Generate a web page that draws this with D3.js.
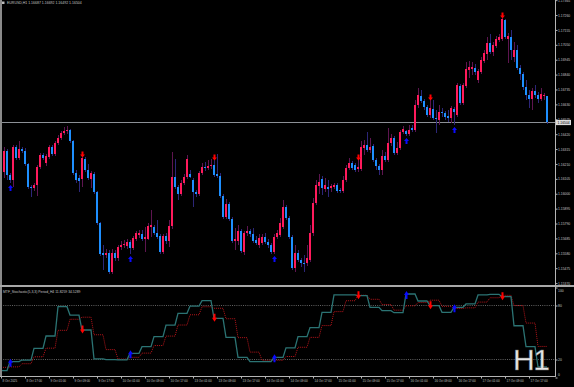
<!DOCTYPE html>
<html>
<head>
<meta charset="utf-8">
<script src="https://cdn.jsdelivr.net/npm/d3@7"></script>
<style>
  html, body { margin: 0; background: #000; }
  svg { display: block; }
  text { font-family: "Liberation Sans", Arial, sans-serif; }
</style>
</head>
<body>
<svg id="chart" width="574" height="387"></svg>
<script>
// ---------------- data ----------------
const mainTitle = "EURUSD,H1  1.16687 1.16692 1.16492 1.16504";
const stochTitle = "MTF_Stochastic(5,3,3) Period_H4 11.8259 34.5289";
const bid = 1.16504;

// hourly candles, 8 Oct 09:00 -> 17 Oct 23:00, [open, high, low, close]
const ohlc = [
  [1.16146,1.16196,1.16076,1.16168],[1.16153,1.16330,1.16111,1.16301],[1.16301,1.16315,1.16097,1.16132],[1.16132,1.16146,1.16076,1.16097],
  [1.16097,1.16344,1.16048,1.16330],[1.16330,1.16344,1.16238,1.16252],[1.16252,1.16372,1.16238,1.16315],[1.16315,1.16330,1.16287,1.16301],
  [1.16301,1.16323,1.16196,1.16210],[1.16210,1.16217,1.16034,1.16048],[1.16048,1.16062,1.15977,1.16041],[1.16041,1.16076,1.16020,1.16062],
  [1.16062,1.16203,1.15984,1.16189],[1.16189,1.16287,1.16175,1.16273],[1.16273,1.16287,1.16238,1.16252],[1.16217,1.16280,1.16196,1.16266],
  [1.16259,1.16344,1.16245,1.16330],[1.16330,1.16344,1.16266,1.16280],[1.16280,1.16372,1.16266,1.16358],[1.16358,1.16414,1.16344,1.16393],
  [1.16393,1.16442,1.16379,1.16428],[1.16428,1.16471,1.16414,1.16442],[1.16442,1.16478,1.16421,1.16450],[1.16450,1.16457,1.16358,1.16372],
  [1.16372,1.16379,1.16132,1.16146],[1.16146,1.16168,1.16076,1.16097],[1.16111,1.16132,1.16012,1.16090],[1.16104,1.16259,1.16048,1.16252],
  [1.16245,1.16259,1.16153,1.16168],[1.16168,1.16210,1.16097,1.16111],[1.16104,1.16160,1.16041,1.16146],[1.16139,1.16153,1.15998,1.16012],
  [1.16012,1.16020,1.15780,1.15794],[1.15794,1.15801,1.15561,1.15575],[1.15582,1.15639,1.15463,1.15568],[1.15568,1.15611,1.15547,1.15582],
  [1.15582,1.15604,1.15434,1.15448],[1.15448,1.15611,1.15434,1.15582],[1.15582,1.15604,1.15526,1.15547],[1.15547,1.15639,1.15526,1.15625],
  [1.15625,1.15667,1.15604,1.15639],[1.15639,1.15674,1.15618,1.15646],[1.15632,1.15681,1.15611,1.15660],[1.15660,1.15674,1.15575,1.15618],
  [1.15618,1.15702,1.15604,1.15688],[1.15681,1.15737,1.15667,1.15723],[1.15709,1.15745,1.15688,1.15723],[1.15716,1.15745,1.15667,1.15681],
  [1.15681,1.15766,1.15589,1.15695],[1.15681,1.15794,1.15674,1.15773],[1.15766,1.15886,1.15695,1.15780],[1.15766,1.15780,1.15709,1.15723],
  [1.15723,1.15815,1.15681,1.15695],[1.15702,1.15716,1.15575,1.15589],[1.15589,1.15716,1.15575,1.15702],[1.15702,1.15723,1.15646,1.15667],
  [1.15667,1.15815,1.15625,1.15773],[1.15773,1.16294,1.15752,1.16118],[1.16118,1.16245,1.16034,1.16048],[1.16048,1.16062,1.15956,1.15998],
  [1.15998,1.16097,1.15984,1.16076],[1.16076,1.16139,1.16062,1.16118],[1.16118,1.16273,1.16104,1.16245],[1.16139,1.16168,1.16111,1.16118],
  [1.16097,1.16111,1.15907,1.16012],[1.16012,1.16027,1.15977,1.15998],[1.15998,1.16160,1.15984,1.16146],[1.16146,1.16217,1.16132,1.16189],
  [1.16189,1.16224,1.16160,1.16182],[1.16182,1.16238,1.16168,1.16196],[1.16196,1.16245,1.16175,1.16203],[1.16203,1.16238,1.16118,1.16132],
  [1.16139,1.16280,1.16111,1.16125],[1.16125,1.16146,1.15970,1.15984],[1.15984,1.15998,1.15822,1.15836],[1.15836,1.15963,1.15822,1.15928],
  [1.15928,1.15942,1.15808,1.15822],[1.15822,1.15836,1.15653,1.15667],[1.15667,1.15759,1.15604,1.15681],[1.15667,1.15780,1.15639,1.15737],
  [1.15737,1.15752,1.15582,1.15596],[1.15589,1.15737,1.15568,1.15723],[1.15723,1.15773,1.15702,1.15737],[1.15737,1.15752,1.15695,1.15716],
  [1.15716,1.15759,1.15653,1.15667],[1.15674,1.15702,1.15639,1.15653],[1.15639,1.15716,1.15618,1.15688],[1.15653,1.15716,1.15639,1.15695],
  [1.15695,1.15723,1.15646,1.15660],[1.15660,1.15681,1.15618,1.15639],[1.15639,1.15653,1.15575,1.15589],[1.15589,1.15716,1.15575,1.15695],
  [1.15695,1.15745,1.15681,1.15723],[1.15709,1.15829,1.15695,1.15794],[1.15766,1.15956,1.15752,1.15907],[1.15907,1.15921,1.15815,1.15829],
  [1.15829,1.15843,1.15681,1.15695],[1.15695,1.15709,1.15463,1.15477],[1.15477,1.15639,1.15448,1.15582],[1.15582,1.15604,1.15519,1.15533],
  [1.15533,1.15547,1.15484,1.15512],[1.15512,1.15568,1.15448,1.15505],[1.15512,1.15639,1.15491,1.15547],[1.15533,1.15780,1.15519,1.15723],
  [1.15723,1.15970,1.15702,1.15935],[1.15935,1.16097,1.15921,1.16062],[1.16055,1.16139,1.15998,1.16083],[1.16104,1.16125,1.15991,1.16041],
  [1.16034,1.16111,1.16012,1.16062],[1.16048,1.16097,1.15977,1.16034],[1.16041,1.16069,1.16012,1.16055],[1.16048,1.16076,1.16034,1.16062],
  [1.16062,1.16076,1.16005,1.16020],[1.16027,1.16041,1.16005,1.16020],[1.16020,1.16125,1.16005,1.16097],[1.16097,1.16203,1.16083,1.16182],
  [1.16182,1.16252,1.16168,1.16217],[1.16217,1.16231,1.16168,1.16182],[1.16203,1.16217,1.16153,1.16168],[1.16175,1.16238,1.16153,1.16189],
  [1.16175,1.16372,1.16160,1.16330],[1.16323,1.16379,1.16273,1.16344],[1.16344,1.16435,1.16294,1.16308],[1.16308,1.16393,1.16287,1.16330],
  [1.16337,1.16351,1.16224,1.16238],[1.16238,1.16252,1.16168,1.16196],[1.16196,1.16210,1.16132,1.16168],[1.16168,1.16308,1.16132,1.16266],
  [1.16266,1.16294,1.16224,1.16238],[1.16238,1.16464,1.16224,1.16358],[1.16358,1.16421,1.16337,1.16393],[1.16393,1.16407,1.16273,1.16287],
  [1.16287,1.16365,1.16273,1.16323],[1.16323,1.16450,1.16308,1.16435],[1.16435,1.16478,1.16421,1.16457],[1.16442,1.16450,1.16407,1.16421],
  [1.16421,1.16485,1.16407,1.16450],[1.16464,1.16485,1.16435,1.16450],[1.16450,1.16661,1.16435,1.16626],[1.16626,1.16746,1.16605,1.16696],
  [1.16689,1.16732,1.16640,1.16654],[1.16654,1.16668,1.16591,1.16612],[1.16612,1.16626,1.16541,1.16555],[1.16555,1.16661,1.16534,1.16605],
  [1.16598,1.16661,1.16520,1.16534],[1.16534,1.16591,1.16428,1.16527],[1.16520,1.16626,1.16485,1.16576],[1.16576,1.16605,1.16541,1.16569],
  [1.16569,1.16583,1.16520,1.16541],[1.16548,1.16591,1.16506,1.16534],[1.16534,1.16619,1.16499,1.16605],[1.16598,1.16612,1.16485,1.16576],
  [1.16555,1.16781,1.16541,1.16767],[1.16760,1.16774,1.16626,1.16640],[1.16640,1.16781,1.16626,1.16767],[1.16760,1.16929,1.16746,1.16880],
  [1.16873,1.16936,1.16816,1.16894],[1.16880,1.16929,1.16837,1.16894],[1.16887,1.16915,1.16837,1.16858],[1.16802,1.16880,1.16781,1.16866],
  [1.16858,1.16964,1.16844,1.16943],[1.16936,1.17014,1.16922,1.16992],[1.16985,1.17105,1.16943,1.17063],[1.17063,1.17126,1.16985,1.16999],
  [1.16999,1.17070,1.16971,1.17049],[1.17042,1.17112,1.17028,1.17091],[1.17084,1.17126,1.17070,1.17105],[1.17091,1.17239,1.17077,1.17232],
  [1.17225,1.17232,1.17091,1.17105],[1.17091,1.17133,1.16922,1.17112],[1.17105,1.17154,1.16943,1.17014],[1.16964,1.17070,1.16929,1.17014],
  [1.17014,1.17049,1.16873,1.16887],[1.16887,1.16908,1.16802,1.16844],[1.16844,1.16858,1.16732,1.16753],[1.16753,1.16802,1.16661,1.16696],
  [1.16696,1.16732,1.16605,1.16668],[1.16668,1.16746,1.16591,1.16725],[1.16725,1.16767,1.16675,1.16696],[1.16696,1.16718,1.16640,1.16668],
  [1.16668,1.16746,1.16654,1.16703],[1.16689,1.16711,1.16661,1.16696],[1.16687,1.16692,1.16492,1.16504]
];

const priceTicks = [1.17365, 1.17260, 1.17155, 1.17050, 1.16945, 1.16840, 1.16735, 1.16630, 1.16525,
  1.16420, 1.16315, 1.16210, 1.16105, 1.16000, 1.15895, 1.15790, 1.15685, 1.15580, 1.15475, 1.15370];

const timeLabels = ["8 Oct 2025", "8 Oct 17:00", "9 Oct 01:00", "9 Oct 09:00", "9 Oct 17:00",
  "10 Oct 01:00", "10 Oct 09:00", "10 Oct 17:00", "13 Oct 01:00", "13 Oct 09:00", "13 Oct 17:00",
  "14 Oct 01:00", "14 Oct 09:00", "14 Oct 17:00", "15 Oct 01:00", "15 Oct 09:00", "15 Oct 17:00",
  "16 Oct 01:00", "16 Oct 09:00", "16 Oct 17:00", "17 Oct 01:00", "17 Oct 09:00", "17 Oct 17:00"];

// H4 stochastic, one value per H4 bar (first one partial)
const stochMain = [7.6, 17.6, 19.4, 32.4, 46.1, 78.7, 69.4, 52.8, 20.8, 19.9, 19.6, 26.9,
  34.3, 45.4, 58.3, 71.3, 79.4, 85.4, 65.8, 44.6, 22.4, 17.6, 17.6, 22.4,
  33.0, 45.4, 55.4, 72.4, 91.7, 91.7, 90.9, 78.0, 74.3, 72.0, 92.8, 85.0,
  79.8, 72.4, 78.0, 81.7, 91.7, 92.4, 89.8, 57.5, 34.3, 11.8259];
const stochSignal = [11.3, 11.8, 15.3, 23.0, 32.6, 52.4, 64.7, 67.0, 47.5, 31.0, 20.5, 22.4,
  27.1, 35.5, 46.0, 58.3, 69.7, 78.6, 76.9, 65.3, 44.3, 28.2, 19.2, 19.2,
  23.3, 33.6, 44.6, 57.7, 73.2, 85.3, 91.4, 86.9, 81.1, 74.8, 79.7, 83.3,
  85.9, 79.1, 76.7, 77.4, 83.8, 88.6, 91.3, 79.9, 60.5, 34.5289];
const stochLevels = [80, 20];
const stochTicks = [100, 80, 20, 0];

const buyBars = [3, 43, 91, 135, 151];
const sellBars = [27, 71, 119, 143, 167];

// ---------------- drawing ----------------
const svg = d3.select("#chart");
const W = 574, H = 387;
const plotRight = 555;

const bullBody = "#ff1a5c", bearBody = "#1e8fff";
const bullWick = "#5e1550", bearWick = "#2c2678";
const axisText = "#c4c4c4";

svg.append("rect").attr("width", W).attr("height", H).attr("fill", "#000");

const x = d3.scaleLinear().domain([0, ohlc.length - 1]).range([1, 547]);
const y = d3.scaleLinear().domain([1.15370, 1.17366]).range([283.1, 0]);
const ys = d3.scaleLinear().domain([0, 100]).range([377.5, 287.5]);

// H4 bucket of an hourly bar (H4 bars open at bars 3, 7, 11, ...)
const h4 = i => Math.floor((i + 1) / 4);

// --------------------------------------------------
// MAIN WINDOW
// --------------------------------------------------

const main = svg.append("g").attr("shape-rendering", "crispEdges");

// current price line
main.append("line")
  .attr("x1", 0).attr("x2", plotRight)
  .attr("y1", Math.round(y(bid)) + 0.5).attr("y2", Math.round(y(bid)) + 0.5)
  .attr("stroke", "#8c9096").attr("stroke-width", 1);

main.selectAll("rect.wick")
  .data(ohlc)
  .join("rect")
  .attr("class", "wick")
  .attr("x", (d, i) => x(i))
  .attr("y", d => y(d[1]))
  .attr("width", 1)
  .attr("height", d => Math.max(1, y(d[2]) - y(d[1])))
  .attr("fill", d => d[3] >= d[0] ? bullWick : bearWick);

main.selectAll("rect.body")
  .data(ohlc)
  .join("rect")
  .attr("class", "body")
  .attr("x", (d, i) => x(i) - 1)
  .attr("y", d => y(Math.max(d[0], d[3])))
  .attr("width", 2)
  .attr("height", d => Math.max(1, Math.abs(y(d[0]) - y(d[3]))))
  .attr("fill", d => d[3] >= d[0] ? bullBody : bearBody);

function arrowPath(cx, tipY, dir, h, w) {
  // dir = 1 -> pointing down, dir = -1 -> pointing up
  const sw = w * 0.2, hw = w / 2, hl = h * 0.5;
  const p = [
    [cx - sw, tipY - dir * h], [cx + sw, tipY - dir * h], [cx + sw, tipY - dir * hl],
    [cx + hw, tipY - dir * hl], [cx, tipY], [cx - hw, tipY - dir * hl], [cx - sw, tipY - dir * hl]
  ];
  return "M" + p.map(q => q.join(",")).join("L") + "Z";
}

const arrowsMain = svg.append("g");
arrowsMain.selectAll("path.sell")
  .data(sellBars)
  .join("path")
  .attr("d", i => arrowPath(x(i) + 0.5, y(ohlc[i][1]) + 0.5, 1, 6, 5))
  .attr("fill", "#ff0000");
arrowsMain.selectAll("path.buy")
  .data(buyBars)
  .join("path")
  .attr("d", i => arrowPath(x(i) + 0.5, y(ohlc[i][2]) + 2, -1, 6, 5))
  .attr("fill", "#0a0aff");

// title
svg.append("rect").attr("x", 2).attr("y", 1.5).attr("width", 2.5).attr("height", 2.5).attr("fill", "#bbb");
svg.append("text")
  .attr("x", 7).attr("y", 4.2)
  .attr("font-size", 3.5).attr("fill", axisText)
  .text(mainTitle);

// --------------------------------------------------
// STOCHASTIC WINDOW
// --------------------------------------------------

const sub = svg.append("g");

sub.selectAll("line.level")
  .data(stochLevels)
  .join("line")
  .attr("x1", 1).attr("x2", plotRight)
  .attr("y1", d => ys(d)).attr("y2", d => ys(d))
  .attr("stroke", "#8d8d8d").attr("stroke-width", 0.7)
  .attr("stroke-dasharray", "1,1.2");

const bars = d3.range(ohlc.length);

const signalLine = d3.line()
  .x(i => x(i))
  .y(i => ys(stochSignal[h4(i)]));
const mainLine = d3.line()
  .x(i => x(i))
  .y(i => ys(stochMain[h4(i)]));

sub.append("path")
  .datum(bars)
  .attr("d", signalLine)
  .attr("fill", "none")
  .attr("stroke", "#b3151a")
  .attr("stroke-width", 1)
  .attr("stroke-dasharray", "1,1");

sub.append("path")
  .datum(bars)
  .attr("d", mainLine)
  .attr("fill", "none")
  .attr("stroke", "#2b7373")
  .attr("stroke-width", 1.3);

sub.selectAll("path.sell")
  .data(sellBars)
  .join("path")
  .attr("d", i => arrowPath(x(i) + 0.5, ys(stochMain[h4(i)]) + 3.5, 1, 8, 5))
  .attr("fill", "#ff0000");
sub.selectAll("path.buy")
  .data(buyBars)
  .join("path")
  .attr("d", i => arrowPath(x(i) + 0.5, ys(stochMain[h4(i)]) - 3, -1, 8, 5))
  .attr("fill", "#0a0aff");

svg.append("text")
  .attr("x", 3).attr("y", 292.6)
  .attr("font-size", 3.4).attr("fill", axisText)
  .text(stochTitle);

// --------------------------------------------------
// FRAME
// --------------------------------------------------

const frame = svg.append("g").attr("shape-rendering", "crispEdges");
frame.append("rect").attr("x", 0).attr("y", 0).attr("width", 1.5).attr("height", 377).attr("fill", "#8a8a8a");
frame.append("rect").attr("x", 0).attr("y", 285).attr("width", W).attr("height", 2).attr("fill", "#a8a8a8");
frame.append("rect").attr("x", plotRight).attr("y", 0).attr("width", 1).attr("height", 377).attr("fill", "#b4b4b4");
frame.append("rect").attr("x", 0).attr("y", 376).attr("width", plotRight + 1).attr("height", 1).attr("fill", "#b4b4b4");

// --------------------------------------------------
// AXES
// --------------------------------------------------

const priceAxis = svg.append("g")
  .attr("transform", `translate(${plotRight + 0.5},0)`)
  .call(d3.axisRight(y).tickValues(priceTicks).tickFormat(d3.format(".5f")).tickSize(2).tickPadding(0.5));
priceAxis.select(".domain").remove();
priceAxis.selectAll("line").attr("stroke", "#b4b4b4");
priceAxis.selectAll("text").attr("font-size", 3.4).attr("fill", axisText).attr("font-family", "Liberation Sans, Arial, sans-serif");

const stochAxis = svg.append("g")
  .attr("transform", `translate(${plotRight + 0.5},0)`)
  .call(d3.axisRight(ys).tickValues(stochTicks).tickSize(2).tickPadding(0.5));
stochAxis.select(".domain").remove();
stochAxis.selectAll("line").attr("stroke", "#b4b4b4");
stochAxis.selectAll("text")
  .attr("font-size", 3.4).attr("fill", axisText).attr("font-family", "Liberation Sans, Arial, sans-serif")
  .attr("y", d => d === 100 ? 2.5 : d === 0 ? -3.3 : 0);

// bid label box
const bidY = Math.round(y(bid)) + 0.5;
svg.append("rect")
  .attr("x", plotRight + 1).attr("y", bidY - 2.6)
  .attr("width", 15).attr("height", 5.2)
  .attr("fill", "#dcdcdc");
svg.append("text")
  .attr("x", plotRight + 2.5).attr("y", bidY + 1.3)
  .attr("font-size", 3.4).attr("fill", "#000")
  .text(d3.format(".5f")(bid));

const timeAxis = svg.append("g")
  .attr("transform", "translate(0,376.5)")
  .call(d3.axisBottom(x)
    .tickValues(timeLabels.map((d, i) => i * 8))
    .tickFormat((d, i) => timeLabels[i])
    .tickSize(2).tickPadding(1));
timeAxis.select(".domain").remove();
timeAxis.selectAll("line").attr("stroke", "#b4b4b4");
timeAxis.selectAll("text")
  .attr("font-size", 3).attr("fill", axisText)
  .attr("font-family", "Liberation Sans, Arial, sans-serif")
  .attr("text-anchor", "start").attr("dx", 1);

// timeframe watermark
svg.append("text")
  .attr("x", 513).attr("y", 370)
  .attr("font-size", 30)
  .attr("letter-spacing", -1.5)
  .attr("fill", "#e6e6e6")
  .attr("stroke", "#6a6a6a").attr("stroke-width", 0.4)
  .text("H1");
</script>
</body>
</html>
